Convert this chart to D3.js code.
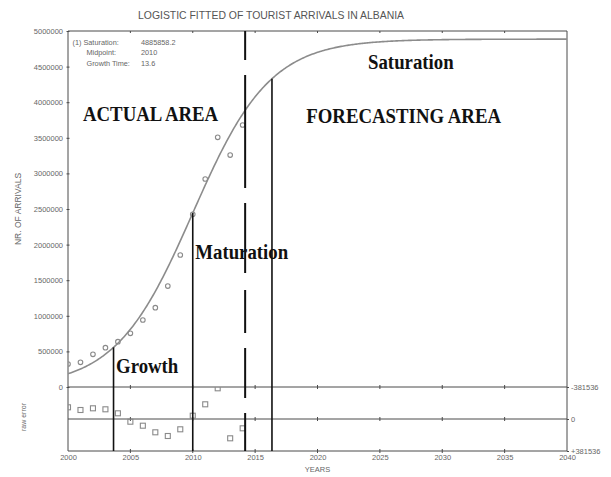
<!DOCTYPE html>
<html>
<head>
<meta charset="utf-8">
<script src="https://cdn.jsdelivr.net/npm/d3@7"></script>
<style>
  body { margin: 0; background: #fff; }
  svg { display: block; }
</style>
</head>
<body>
<script>
// Observed tourist arrivals in Albania
const years = [2000, 2001, 2002, 2003, 2004, 2005, 2006, 2007, 2008, 2009, 2010, 2011, 2012, 2013, 2014];
const arrivals = [323000, 347000, 459000, 552000, 636000, 754000, 941000, 1114000, 1418000, 1854000, 2426000, 2921000, 3507000, 3258000, 3680000];
// Raw error of the logistic fit for each year
const rawError = [-139500, -107300, -127600, -115700, -68000, 32200, 79900, 158600, 202700, 122800, -39300, -175300, -366000, 230100, 110900];

// Logistic fit parameters
const saturation = 4885858.2;
const midpoint = 2010;
const growthTime = 13.6;

// Phase boundaries (years)
const growthEnd = 2003.65;
const saturationStart = 2016.35;
const forecastStart = 2014.2;

// Axis ticks
const xTicks = [2000, 2005, 2010, 2015, 2020, 2025, 2030, 2035, 2040];
const yTicks = [0, 500000, 1000000, 1500000, 2000000, 2500000, 3000000, 3500000, 4000000, 4500000, 5000000];
const errorTicks = [-381536, 0, 381536];
const errorTickLabels = ["-381536", "0", "+381536"];

const W = 611, H = 477;
const svg = d3.select("body").append("svg").attr("width", W).attr("height", H);

const x = d3.scaleLinear().domain([2000, 2040]).range([68, 567]);
const y = d3.scaleLinear().domain([0, 5000000]).range([387, 31]);
const yErr = d3.scaleLinear().domain([-381536, 381536]).range([387, 451]);

const rate = Math.log(81) / growthTime;
const logistic = t => saturation / (1 + Math.exp(-rate * (t - midpoint)));

const frameColor = "#4a4a4a";
const grey = "#8a8a8a";
const smallFont = "Liberation Sans, Arial, sans-serif";

const defs = svg.append("defs");
defs.append("clipPath").attr("id", "mainClip")
  .append("rect").attr("x", x(2000)).attr("y", y(5000000)).attr("width", x(2040) - x(2000)).attr("height", y(0) - y(5000000));
defs.append("clipPath").attr("id", "errClip")
  .append("rect").attr("x", x(2000)).attr("y", yErr(-381536)).attr("width", x(2040) - x(2000)).attr("height", yErr(381536) - yErr(-381536));

// Title
svg.append("text")
  .attr("x", 271).attr("y", 19)
  .attr("text-anchor", "middle")
  .attr("font-family", smallFont).attr("font-size", 10.5)
  .attr("fill", "#555")
  .attr("textLength", 266).attr("lengthAdjust", "spacingAndGlyphs")
  .text("LOGISTIC FITTED OF TOURIST ARRIVALS IN ALBANIA");

// Frame
const frame = svg.append("g").attr("stroke", frameColor).attr("stroke-width", 1).attr("fill", "none");
frame.append("line").attr("x1", x(2000)).attr("x2", x(2040)).attr("y1", y(5000000)).attr("y2", y(5000000));
frame.append("line").attr("x1", x(2000)).attr("x2", x(2000)).attr("y1", y(5000000)).attr("y2", yErr(381536));
frame.append("line").attr("x1", x(2040)).attr("x2", x(2040)).attr("y1", y(5000000)).attr("y2", yErr(381536));
errorTicks.forEach(v => {
  frame.append("line").attr("x1", x(2000)).attr("x2", x(2040)).attr("y1", yErr(v)).attr("y2", yErr(v));
});

// Left value axis
const yAxis = svg.append("g")
  .attr("transform", `translate(${x(2000)},0)`)
  .call(d3.axisLeft(y).tickValues(yTicks).tickSize(3).tickPadding(2).tickFormat(d3.format("d")));
yAxis.select(".domain").remove();
yAxis.selectAll(".tick line").attr("stroke", frameColor).attr("transform", "translate(1.5,0)");
yAxis.selectAll(".tick text").attr("font-family", smallFont).attr("font-size", 7.5).attr("fill", "#666");

// Right raw error axis
const eAxis = svg.append("g")
  .attr("transform", `translate(${x(2040)},0)`)
  .call(d3.axisRight(yErr).tickValues(errorTicks).tickSize(2).tickPadding(2)
    .tickFormat((d, i) => errorTickLabels[i]));
eAxis.select(".domain").remove();
eAxis.selectAll(".tick line").attr("stroke", frameColor);
eAxis.selectAll(".tick text").attr("font-family", smallFont).attr("font-size", 7.5).attr("fill", "#666");

// Year axis labels
const xAxis = svg.append("g")
  .attr("transform", `translate(0,${yErr(381536)})`)
  .call(d3.axisBottom(x).tickValues(xTicks).tickSize(0).tickPadding(4).tickFormat(d3.format("d")));
xAxis.select(".domain").remove();
xAxis.selectAll(".tick text").attr("font-family", smallFont).attr("font-size", 7.5).attr("fill", "#666");

// Small tick marks on the top border and the error panel lines
const tickY = [y(5000000), yErr(-381536), yErr(0), yErr(381536)];
const tickG = svg.append("g").attr("stroke", frameColor).attr("stroke-width", 1);
tickY.forEach((ty, k) => {
  xTicks.slice(1, -1).forEach(t => {
    tickG.append("line")
      .attr("x1", x(t)).attr("x2", x(t))
      .attr("y1", k === 0 ? ty : ty - 2).attr("y2", ty + 2);
  });
});

// Axis titles
svg.append("text")
  .attr("transform", `translate(21,${(y(3500000) + y(1500000)) / 2}) rotate(-90)`)
  .attr("text-anchor", "middle")
  .attr("font-family", smallFont).attr("font-size", 8.5).attr("fill", "#666")
  .text("NR. OF ARRIVALS");
svg.append("text")
  .attr("transform", `translate(26,${yErr(0) - 2}) rotate(-90)`)
  .attr("text-anchor", "middle")
  .attr("font-family", smallFont).attr("font-size", 7).attr("fill", "#666")
  .text("raw error");
svg.append("text")
  .attr("x", x(2020)).attr("y", 472)
  .attr("text-anchor", "middle")
  .attr("font-family", smallFont).attr("font-size", 7.5).attr("fill", "#666")
  .text("YEARS");

// Fit parameters
const params = [
  ["(1) Saturation:", d3.format(".1f")(saturation)],
  ["Midpoint:", String(midpoint)],
  ["Growth Time:", String(growthTime)]
];
const pg = svg.append("g").attr("font-family", smallFont).attr("font-size", 7.3).attr("fill", "#666");
params.forEach((p, i) => {
  pg.append("text").attr("x", i === 0 ? 72.5 : 86.5).attr("y", 44.5 + i * 10.8).text(p[0]);
  pg.append("text").attr("x", 141).attr("y", 44.5 + i * 10.8).text(p[1]);
});

// Fitted logistic curve
const curveYears = d3.range(2000, 2040.01, 0.1);
svg.append("path")
  .datum(curveYears)
  .attr("clip-path", "url(#mainClip)")
  .attr("fill", "none").attr("stroke", "#8c8c8c").attr("stroke-width", 1.6)
  .attr("d", d3.line().x(t => x(t)).y(t => y(logistic(t))));

// Observed values
svg.append("g").attr("clip-path", "url(#mainClip)")
  .selectAll("circle").data(years).join("circle")
  .attr("cx", d => x(d)).attr("cy", (d, i) => y(arrivals[i]))
  .attr("r", 2.3)
  .attr("fill", "none").attr("stroke", grey).attr("stroke-width", 1.1);

// Raw errors
const sq = 5;
svg.append("g").attr("clip-path", "url(#errClip)")
  .selectAll("rect").data(years).join("rect")
  .attr("x", d => x(d) - sq / 2).attr("y", (d, i) => yErr(rawError[i]) - sq / 2)
  .attr("width", sq).attr("height", sq)
  .attr("fill", "none").attr("stroke", grey).attr("stroke-width", 1.1);

// Phase boundaries
const phase = svg.append("g").attr("stroke", "#111").attr("stroke-width", 1.6);
[growthEnd, midpoint, saturationStart].forEach(t => {
  phase.append("line")
    .attr("x1", x(t)).attr("x2", x(t))
    .attr("y1", y(logistic(t))).attr("y2", yErr(381536));
});
phase.append("line")
  .attr("x1", x(forecastStart)).attr("x2", x(forecastStart))
  .attr("y1", y(5000000)).attr("y2", yErr(381536))
  .attr("stroke-width", 2)
  .attr("stroke-dasharray", "29,15,113,15,70,17,43,15,50,15,38,20");

// Phase and area labels
const labels = [
  { text: "ACTUAL AREA", t: 2001.2, v: 3729000 },
  { text: "FORECASTING AREA", t: 2019.1, v: 3704000 },
  { text: "Saturation", t: 2024.05, v: 4462000 },
  { text: "Maturation", t: 2010.2, v: 1794000 },
  { text: "Growth", t: 2003.85, v: 201000 }
];
svg.append("g")
  .selectAll("text").data(labels).join("text")
  .attr("transform", d => `translate(${x(d.t)},${y(d.v)}) scale(1,1.15)`)
  .attr("font-family", "Liberation Serif, Times New Roman, serif")
  .attr("font-weight", "bold").attr("font-size", 18.8)
  .attr("fill", "#111")
  .text(d => d.text);
</script>
</body>
</html>
